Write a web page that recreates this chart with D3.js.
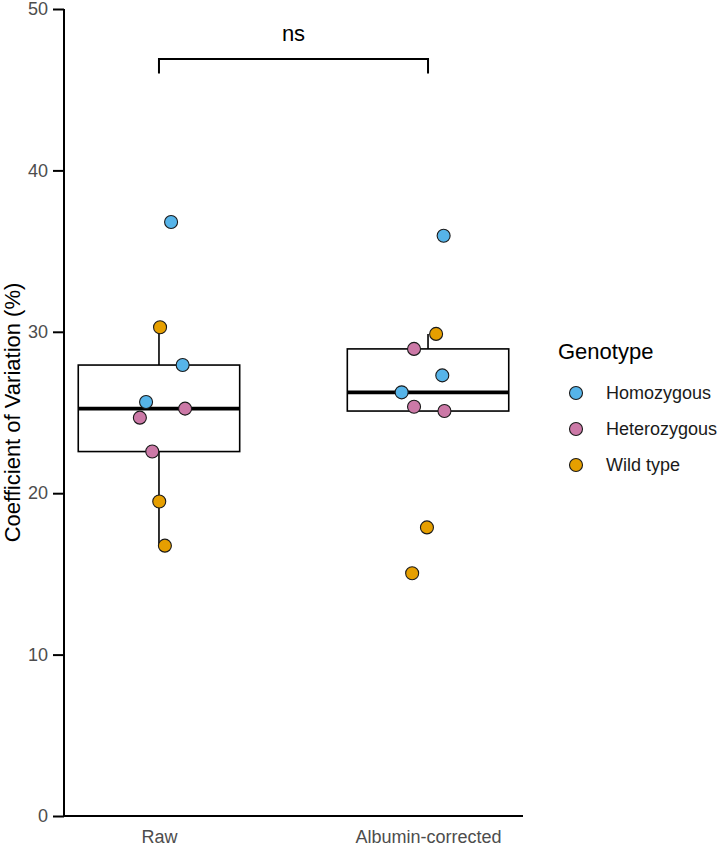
<!DOCTYPE html>
<html>
<head>
<meta charset="utf-8">
<script src="https://cdn.jsdelivr.net/npm/d3@7"></script>
<style>
  body { margin: 0; background: #fff; }
  svg { display: block; font-family: "Liberation Sans", Arial, sans-serif; }
</style>
</head>
<body>
<svg id="chart"></svg>
<script>
// data
const groups = ["Raw", "Albumin-corrected"];
const genotypes = ["Homozygous", "Heterozygous", "Wild type"];
const genoColors = ["#56B4E9", "#CC79A7", "#E69F00"];

const rawValues   = [36.8, 30.28, 27.94, 25.65, 25.24, 24.68, 22.58, 19.49, 16.75];
const rawGeno     = ["Homozygous", "Wild type", "Homozygous", "Homozygous", "Heterozygous", "Heterozygous", "Heterozygous", "Wild type", "Wild type"];
const rawJitter   = [0.045, 0.004, 0.088, -0.048, 0.097, -0.071, -0.025, 0.001, 0.022];

const albValues   = [35.95, 29.87, 28.94, 27.30, 26.25, 25.36, 25.09, 17.88, 15.04];
const albGeno     = ["Homozygous", "Wild type", "Heterozygous", "Homozygous", "Homozygous", "Heterozygous", "Heterozygous", "Wild type", "Wild type"];
const albJitter   = [0.058, 0.030, -0.052, 0.053, -0.098, -0.052, 0.061, -0.004, -0.059];

const yTicks = [0, 10, 20, 30, 40, 50];
const sigLabel = "ns";
const sigY = 46.9;

const W = 718, H = 847;
const margin = { top: 9, right: 195, bottom: 31, left: 64 };
const FONT = "'Liberation Sans', Arial, sans-serif";

const svg = d3.select("#chart").attr("width", W).attr("height", H);

const x = d3.scalePoint().domain(groups).range([margin.left, W - margin.right]).padding(0.353);
const step = x.step();
const y = d3.scaleLinear().domain([0, 50]).range([H - margin.bottom, margin.top]);
const color = d3.scaleOrdinal().domain(genotypes).range(genoColors);

const series = [
  { group: groups[0], values: rawValues, geno: rawGeno, jitter: rawJitter },
  { group: groups[1], values: albValues, geno: albGeno, jitter: albJitter }
];

// boxplot stats, ggplot style (type 7 quantiles, 1.5 IQR whiskers)
function stats(vals) {
  const s = vals.slice().sort(d3.ascending);
  const q1 = d3.quantile(s, 0.25), med = d3.quantile(s, 0.5), q3 = d3.quantile(s, 0.75);
  const iqr = q3 - q1;
  const lo = d3.min(s.filter(v => v >= q1 - 1.5 * iqr));
  const hi = d3.max(s.filter(v => v <= q3 + 1.5 * iqr));
  return { q1, med, q3, lo, hi };
}

const boxW = step * 0.6;
const boxes = svg.append("g");
series.forEach(sr => {
  const st = stats(sr.values);
  const cx = x(sr.group);
  const g = boxes.append("g");
  g.append("line").attr("x1", cx).attr("x2", cx).attr("y1", y(st.q3)).attr("y2", y(st.hi))
    .attr("stroke", "#000").attr("stroke-width", 1.6);
  g.append("line").attr("x1", cx).attr("x2", cx).attr("y1", y(st.q1)).attr("y2", y(st.lo))
    .attr("stroke", "#000").attr("stroke-width", 1.6);
  g.append("rect").attr("x", cx - boxW / 2).attr("width", boxW)
    .attr("y", y(st.q3)).attr("height", y(st.q1) - y(st.q3))
    .attr("fill", "#fff").attr("stroke", "#000").attr("stroke-width", 1.6);
  g.append("line").attr("x1", cx - boxW / 2).attr("x2", cx + boxW / 2)
    .attr("y1", y(st.med)).attr("y2", y(st.med))
    .attr("stroke", "#000").attr("stroke-width", 3.6);
});

// points
const pts = svg.append("g");
series.forEach(sr => {
  pts.selectAll(null)
    .data(sr.values.map((v, i) => ({ v, g: sr.geno[i], j: sr.jitter[i] })))
    .join("circle")
    .attr("cx", d => x(sr.group) + d.j * step)
    .attr("cy", d => y(d.v))
    .attr("r", 6.5)
    .attr("fill", d => color(d.g))
    .attr("stroke", "#1a1a1a")
    .attr("stroke-width", 1.1);
});

// axes
const yAxis = svg.append("g").attr("transform", `translate(${margin.left},0)`)
  .call(d3.axisLeft(y).tickValues(yTicks).tickSize(11).tickPadding(5));
yAxis.attr("font-size", 18).attr("font-family", FONT);
yAxis.select(".domain").attr("stroke", "#000").attr("stroke-width", 2).attr("d", `M0,${y(0)}V${y(50)}`);
yAxis.selectAll(".tick line").attr("stroke", "#000").attr("stroke-width", 2);
yAxis.selectAll(".tick text").attr("fill", "#4d4d4d");

const xAxis = svg.append("g").attr("transform", `translate(0,${y(0)})`)
  .call(d3.axisBottom(x).tickSize(0).tickPadding(14));
xAxis.attr("font-size", 18).attr("font-family", FONT);
xAxis.select(".domain").attr("stroke", "#000").attr("stroke-width", 2)
  .attr("d", `M${margin.left - 1},0H${W - margin.right}`);
xAxis.selectAll(".tick text").attr("fill", "#4d4d4d");

svg.append("text")
  .attr("transform", `translate(20,${(y(0) + y(50)) / 2}) rotate(-90)`)
  .attr("text-anchor", "middle")
  .style("font-size", "22px")
  .text("Coefficient of Variation (%)");

// significance bracket
const bx1 = x(groups[0]), bx2 = x(groups[1]);
svg.append("path")
  .attr("d", `M${bx1},${y(sigY - 0.9)}V${y(sigY)}H${bx2}V${y(sigY - 0.9)}`)
  .attr("fill", "none").attr("stroke", "#000").attr("stroke-width", 2);
svg.append("text")
  .attr("x", (bx1 + bx2) / 2).attr("y", y(sigY) - 18)
  .attr("text-anchor", "middle")
  .style("font-size", "22px")
  .text(sigLabel);

// legend
const legend = svg.append("g").attr("transform", "translate(558,0)");
legend.append("text").attr("x", 0).attr("y", 359).style("font-size", "22px").text("Genotype");
const items = legend.selectAll(".item").data(genotypes).join("g")
  .attr("class", "item")
  .attr("transform", (d, i) => `translate(0,${393 + i * 36})`);
items.append("circle").attr("cx", 18).attr("cy", 0).attr("r", 6.5)
  .attr("fill", d => color(d)).attr("stroke", "#1a1a1a").attr("stroke-width", 1.1);
items.append("text").attr("x", 48).attr("y", 0).attr("dy", "0.36em")
  .style("font-size", "18px").attr("fill", "#1a1a1a").text(d => d);
</script>
</body>
</html>
